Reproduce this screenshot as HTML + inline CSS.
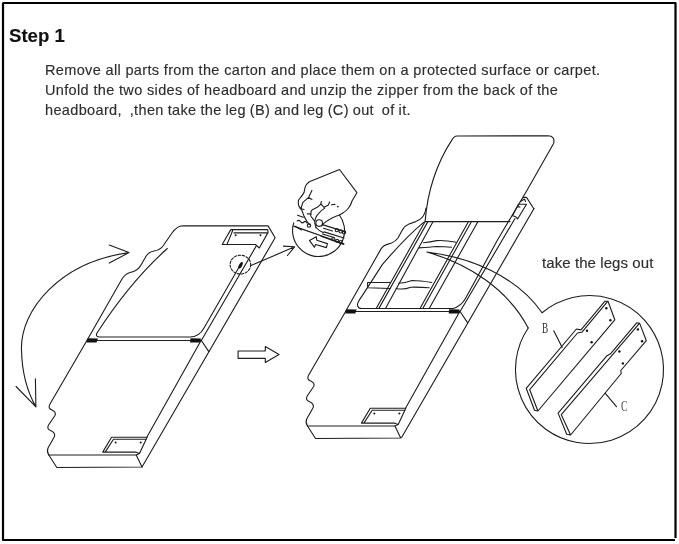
<!DOCTYPE html>
<html><head><meta charset="utf-8">
<style>
html,body{margin:0;padding:0;background:#fff;}
body{width:679px;height:544px;position:relative;overflow:hidden;font-family:"Liberation Sans",sans-serif;}
.t{position:absolute;white-space:pre;color:#2e2e2e;will-change:transform;-webkit-text-stroke:0.15px #2e2e2e;}
#step{left:8.5px;top:25px;font-weight:bold;font-size:18.6px;color:#111;}
.b{font-size:14.5px;left:45px;letter-spacing:.35px;}
svg{position:absolute;left:0;top:0;}
</style></head><body>
<div class="t" id="step">Step 1</div>
<div class="t b" style="top:62px">Remove all parts from the carton and place them on a protected surface or carpet.</div>
<div class="t b" style="top:82.1px">Unfold the two sides of headboard and unzip the zipper from the back of the</div>
<div class="t b" style="top:102.1px;word-spacing:-.45px">headboard,  ,then take the leg (B) and leg (C) out  of it.</div>
<div class="t" style="left:542px;top:253.9px;font-size:15px;letter-spacing:.08px">take the legs out</div>
<svg width="679" height="544" viewBox="0 0 679 544" fill="none" stroke="#1e1e1e" stroke-width="1.12" stroke-linejoin="round" stroke-linecap="round">
<path d="M2.5 3 H675.5 V538 M3 3 V540 H675" stroke="#000" stroke-width="2.2" stroke-linecap="butt"/>
<defs>
<g id="bot">
  <!-- left wavy edge of bottom slab -->
  <path d="M87.2,340 L50,404 Q47.5,408.5 52,410 Q56.5,412 55,415.5 L48.5,425 Q46.5,429 50.5,430.5 Q55.5,432.5 54.5,436.5 L48,448 Q46.5,451.5 48.8,455"/>
  <!-- front face -->
  <path d="M48.8,455 L136.2,455 L142,467 L56.8,467.5 Z"/>
  <!-- top surface right edge (bottom part) -->
  <path d="M147.1,436.7 L201.2,340.2 L208.8,351.6"/>
  <!-- recess -->
  <path d="M136.2,455 L139.5,453.5 L147.1,437.2 L111.6,437.2 L102.7,452.1 L135.5,452.1 Q137.5,453 139.5,453.5 M113.5,439.3 L146.3,439.3 M113.5,439.3 L105.2,452.1"/>
  <circle cx="115.6" cy="442.5" r="1" fill="#1a1a1a" stroke="none"/>
  <circle cx="140.7" cy="442.5" r="1" fill="#1a1a1a" stroke="none"/>
  <!-- fold -->
  <path d="M87.2,340.5 H201.2"/>
  <path d="M87.5,338.2 L97.9,338.4 L96.6,342.6 L86.6,342.4 Z" fill="#111" stroke="none"/>
  <path d="M190.5,338.2 L201,338.4 L200,342.6 L190,342.4 Z" fill="#111" stroke="none"/>
</g>
</defs>
<use href="#bot"/>
<use href="#bot" transform="translate(258.7,-29)"/>

<!-- LEFT PANEL upper -->
<path d="M142,467 L275.1,237.7 L268.1,225.9 L182.8,225.8 Q177,226 172,233 L163,246 Q160,250 154,251 Q148,252 145,258 L141,265 Q138,271 130,272.5 Q125,274 122,279 L87.2,340"/>
<path d="M201.5,340.2 L256.5,245.5"/>
<!-- liner -->
<path d="M167.3,248.5 Q130,282 97,333 Q95,337 100,337 L190,337 Q199,337 204,328 L239.4,266.5"/>
<!-- top recess -->
<path d="M230.8,229.6 L267.7,229.6 L268.1,232.4 L259.3,248 L255.4,244.5 L222.2,244.5 Z M232.7,230.5 L227,244.4 M234,232.9 L267,232.9"/>
<circle cx="235.6" cy="235.3" r="1" fill="#1a1a1a" stroke="none"/>
<circle cx="260.5" cy="235.3" r="1" fill="#1a1a1a" stroke="none"/>
<!-- dashed circle -->
<ellipse cx="240.4" cy="264.6" rx="10.3" ry="9.4" stroke-dasharray="2.4,1.6"/>
<ellipse cx="240.6" cy="265.2" rx="1.6" ry="3.6" transform="rotate(28 240.6 265.2)" fill="#111" stroke="none"/>
<!-- leader arrow -->
<path d="M251,265.4 Q262,261 294.6,246.8 M283.5,246.1 L294.6,246.8 L287.4,255.5"/>
<!-- rotation arc -->
<path d="M129,252.6 C60,262 20,310 21.5,350 C22,375 28,393 35.9,406.9 M109.2,245 L129,252.6 L109.2,263.1 M16.1,386.5 L35.9,406.9 L35.4,378.7"/>
<!-- hollow arrow -->
<path d="M238.1,351 L265.3,351 L265.3,346.6 L279,354.6 L265.3,362.5 L265.3,358.4 L238.1,358.4 Z"/>

<!-- CALLOUT with hand -->
<path d="M293.7,222.9 A26,26 0 1 0 339.4,215"/>
<path d="M293.7,226.1 L343.8,243.7"/>
<path d="M321.6,226 L324,223.1 Q328,220 332.1,217.9 Q336,216 339.4,215 Q346,211.5 348.5,208 Q351,205 352,201 L356.9,192.7 L339.5,169.5 L309.3,181.7 Q306,184 305,187.5 L304.1,192.4 Q302,196 300,198.2 Q298,200 298.3,202.4 Q298.3,205 299.1,206.5 Q300.5,208 301.6,209.8 L304.1,216.4 L307.4,222.2 L309.5,224.7"/>
<path d="M311.9,190.4 L308.6,197.4 L302.9,202.4 L300.8,209 M308.6,197.4 L311.9,199.5 M300,208.5 L304,209.5 M297.5,215.2 L303.3,217.2 M321.4,201.5 L320.6,204.4 Q319,206 317.3,207.3 L312.8,209.4 Q311,210.5 311.1,211.4 L310.7,215.6 Q311,217 312.4,218.1 L314.8,221.4 M307.4,213.9 L311.1,213.9 M321.4,204.4 L323.9,207.3 L328.1,205.2 L329.7,201.9 M331.4,204.8 L335,204.4 M324.8,208.1 Q321,210.5 319,213.1 Q316,216 315.7,218.1 Q314.5,221 314.8,223 L316.1,228 M295,226.3 L301.6,230"/>
<circle cx="319.2" cy="223.1" r="3.3"/>
<circle cx="337.8" cy="206.6" r="0.9" fill="#1e1e1e" stroke="none"/>
<circle cx="309" cy="225.6" r="1.7"/>
<path d="M322.5,224.6 L345.3,231.9 M324,231.9 L344,238 M323.5,228.2 L332.5,231 M321,236.3 L343.8,244.4 M322.5,234 L334,237.5"/>
<circle cx="336.8" cy="230.2" r="1.6"/><circle cx="340.6" cy="231.4" r="1.6"/><circle cx="344" cy="232.4" r="1.6"/>
<circle cx="333.3" cy="239.2" r="1.6"/><circle cx="337.1" cy="240.8" r="1.6"/><circle cx="340.8" cy="242.1" r="1.6"/>
<path d="M316,227.5 Q319,231 323.5,232.8 M297.2,221 Q299,219.5 300.5,221.5 Q302,224 304,222 Q305.5,220.5 307,223"/>
<path d="M309.5,240.6 L316.3,236.8 L316.8,240.2 L327.4,243.6 L326.4,247.6 L315.6,244.5 L314.4,247.2 Z"/>

<!-- RIGHT PANEL upper -->
<path d="M534,208.5 L401.6,437.5"/>

<path d="M345.5,311.5 L381.2,248.6 Q383.5,245.5 386.5,244.6 L391.5,243 Q395.5,241.5 398,238 L402.6,229.6 Q405,225.5 409,224 L415.8,221.6 Q420,220 422,217.5 Q425,214.5 426,208"/>
<!-- lid -->
<path d="M425.1,221.4 C427.4,192.7 436.3,164 451.8,140.1 Q454,136.2 457,136 L547.9,135.8 Q555.5,136 553.6,143.5 L527.2,190 L497.5,240 L465.6,298.3 Q461,306.5 453,308.5 L362,308.5 Q358,308.5 357.5,305.1 Q357,303 362.1,295.9 L382.3,264.6 Q405,238 423.6,222.4"/>
<path d="M515,218.5 L459.5,312.5"/>
<path d="M425.3,221.6 H510"/>

<!-- liner right -->

<!-- slats -->
<path d="M425.1,221.4 L376.2,308.4 M428,221.4 L378.9,308.4 M433.1,221.4 L385.5,308.4"/>
<path d="M468.5,221.4 L420,308.4 M471.5,221.4 L422.8,308.4 M478,221.4 L429.2,308.4"/>
<!-- legs inside -->
<path d="M367.6,282.5 L390.1,282.5 M367.6,287.8 L390.1,288.5 M367.6,282.5 L367.6,287.8 M398.7,283.2 Q405,283 412,280.5 Q420,280.5 431.9,282.5 M396.1,288.5 Q404,290 410.7,287.2 Q420,287 429.2,287.8"/>
<path d="M423.5,242.8 Q430,241.8 436.8,240.6 Q444,240 455.9,242.2 M419.1,247.9 Q430,247.2 436.8,246.5 Q444,246.5 451.5,247.2"/>
<!-- bracket -->
<path d="M523.5,197.4 L526.5,197.4 L533.8,208.8 M518.4,204.3 L526.5,204.3 L517.6,219 Q516.5,216.5 512.5,215.7 Z M517.6,206.9 L519.9,206.9 M520.5,201.5 L524.5,199 L525.5,201.5"/>
<!-- funnel curves -->
<path d="M426.8,252 C470.3,257.4 516.2,275.7 542.05,312.72 M426.8,252 C468,263.6 508,289.2 528.22,328.01"/>
<!-- legs callout circle -->
<path d="M542.05,312.72 A74,74 0 1 1 528.22,328.01"/>
<!-- Leg B -->
<path d="M526.2,388.3 L576.4,329 L581,329.9 L605,301.2 L608,301.2 L614.8,319.8 L537.9,411 L534.5,410.3 Z M529.7,389.7 L537.9,411 M529.7,389.7 L577.5,333 L582,332.2 L607,302.2"/>
<g fill="#111" stroke="none">
<circle cx="606.3" cy="308.3" r="1.2"/><circle cx="610.4" cy="320.3" r="1.2"/><circle cx="587" cy="330.8" r="1.2"/><circle cx="591.6" cy="342.3" r="1.2"/>
</g>
<!-- Leg C -->
<path d="M558.1,413.1 L607,355.7 L610.5,353.8 L636.7,322.8 L639.7,323.4 L646.3,340.7 L620.8,370.5 L621.2,373.5 L570.6,435 L566.7,434.2 Z M561.3,414.7 L570.6,435 M561.3,414.7 L639,323.8"/>
<g fill="#111" stroke="none">
<circle cx="637.9" cy="329.4" r="1.2"/><circle cx="642.1" cy="341.3" r="1.2"/><circle cx="619.4" cy="351.5" r="1.2"/><circle cx="622.9" cy="363.4" r="1.2"/>
</g>
<path d="M553.75,330.8 L562.2,347.4 M605.1,393.1 L616.5,406.7"/>
<text x="542" y="333.4" font-family="Liberation Serif" font-size="14" fill="#333" stroke="none" transform="translate(542 0) scale(0.66 1) translate(-542 0)">B</text>
<text x="621" y="410.7" font-family="Liberation Serif" font-size="14" fill="#444" stroke="none" transform="translate(621 0) scale(0.7 1) translate(-621 0)">C</text>
</svg>
</body></html>
